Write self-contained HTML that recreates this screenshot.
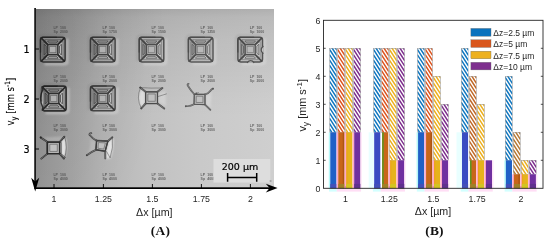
<!DOCTYPE html>
<html lang="en"><head><meta charset="utf-8"><title>Figure</title>
<style>html,body{margin:0;padding:0;background:#fff;overflow:hidden}svg{display:block}text{font-family:"Liberation Sans",sans-serif;fill:#262626}.dj{font-family:"DejaVu Sans Condensed","DejaVu Sans","Liberation Sans",sans-serif;fill:#000;stroke:#000;stroke-width:0.15px}.djs{font-family:"DejaVu Sans","Liberation Sans",sans-serif;fill:#000;stroke:#000;stroke-width:0.2px}.cap{font-family:"Liberation Serif",serif;font-weight:bold;fill:#111}.tiny{font-family:"Liberation Sans",sans-serif;font-weight:bold;font-size:3.5px;fill:#3c3c3c}</style></head><body>
<svg width="550" height="242" viewBox="0 0 550 242">
<defs>
<linearGradient id="bg" x1="0" y1="0" x2="1" y2="0"><stop offset="0" stop-color="#969696"/><stop offset="0.046" stop-color="#9c9c9c"/><stop offset="0.155" stop-color="#a7a7a7"/><stop offset="0.27" stop-color="#b4b4b4"/><stop offset="0.36" stop-color="#bbbbbb"/><stop offset="0.46" stop-color="#c1c1c1"/><stop offset="0.69" stop-color="#c9c9c9"/><stop offset="1.0" stop-color="#cfcfcf"/></linearGradient>
<linearGradient id="topdark" x1="0" y1="0" x2="0" y2="1"><stop offset="0.000" stop-color="#000" stop-opacity="0.15"/><stop offset="0.045" stop-color="#000" stop-opacity="0.1"/><stop offset="0.173" stop-color="#000" stop-opacity="0.065"/><stop offset="0.335" stop-color="#000" stop-opacity="0.04"/><stop offset="0.508" stop-color="#000" stop-opacity="0.01"/><stop offset="0.609" stop-color="#000" stop-opacity="0"/></linearGradient>
<radialGradient id="cornerdark" gradientUnits="userSpaceOnUse" cx="36" cy="9" r="130" gradientTransform="translate(36,9) scale(1,2) translate(-36,-9)"><stop offset="0" stop-color="#000" stop-opacity="0.10"/><stop offset="1" stop-color="#000" stop-opacity="0"/></radialGradient>
<filter id="b1" x="-20%" y="-20%" width="140%" height="140%"><feGaussianBlur stdDeviation="0.62"/></filter>
<filter id="b2" x="-20%" y="-20%" width="140%" height="140%"><feGaussianBlur stdDeviation="0.9"/></filter>
<filter id="bt" x="-20%" y="-50%" width="140%" height="200%"><feGaussianBlur stdDeviation="0.45"/></filter>
<clipPath id="imgclip"><rect x="36" y="9" width="238" height="178.5"/></clipPath>
</defs>
<g clip-path="url(#imgclip)">
<rect x="36" y="9" width="238" height="179" fill="url(#bg)"/>
<rect x="36" y="9" width="238" height="179" fill="url(#topdark)"/>
<rect x="36" y="9" width="238" height="179" fill="url(#cornerdark)"/>
<path d="M67.3,38.8 L67.3,62.900000000000006 Q66.6,64.10000000000001 64.1,64.10000000000001 L44.5,64.10000000000001" fill="none" stroke="#ececec" stroke-width="2.2" opacity="0.47" filter="url(#b2)"/>
<path d="M38.7,60.900000000000006 L38.7,38.3 Q39.0,35.5 42.0,35.5 L63.099999999999994,35.5" fill="none" stroke="#444" stroke-width="1.6" opacity="0.21" filter="url(#b2)"/>
<g filter="url(#b1)" opacity="0.95">
<rect x="40.5" y="37.3" width="24.6" height="24.6" rx="2.5" fill="#9a9a9a" opacity="0.25"/>
<rect x="40.5" y="37.3" width="24.6" height="24.6" rx="2.8" fill="none" stroke="#2e2e2e" stroke-width="1.5"/>
<path d="M40.5,52.6 L40.5,39.8 Q40.5,37.3 43.0,37.3 L56.8,37.3" fill="none" stroke="#161616" stroke-width="1.5" opacity="0.55"/>
<polygon points="44.70,39.60 60.90,39.60 58.20,44.30 47.40,44.30" fill="#8e8e8e" fill-opacity="0.35" stroke="#2c2c2c" stroke-width="0.6" stroke-opacity="0.7" stroke-linejoin="round"/>
<polygon points="47.45,40.96 58.15,40.96 56.36,42.94 49.24,42.94" fill="none" stroke="#2e2e2e" stroke-width="0.85" stroke-linejoin="round" opacity="0.85"/>
<polygon points="42.80,41.50 47.50,44.20 47.50,55.00 42.80,57.70" fill="#5e5e5e" fill-opacity="0.45" stroke="#2c2c2c" stroke-width="0.6" stroke-opacity="0.7" stroke-linejoin="round"/>
<polygon points="44.16,44.25 46.14,46.04 46.14,53.16 44.16,54.95" fill="none" stroke="#2e2e2e" stroke-width="0.85" stroke-linejoin="round" opacity="0.85"/>
<polygon points="62.80,41.50 58.10,44.20 58.10,55.00 62.80,57.70" fill="#dadada" fill-opacity="0.7" stroke="#2c2c2c" stroke-width="0.6" stroke-opacity="0.7" stroke-linejoin="round"/>
<polygon points="61.44,44.25 59.46,46.04 59.46,53.16 61.44,54.95" fill="none" stroke="#2e2e2e" stroke-width="0.85" stroke-linejoin="round" opacity="0.85"/>
<polygon points="44.70,59.60 60.90,59.60 58.20,54.90 47.40,54.90" fill="#cfcfcf" fill-opacity="0.55" stroke="#2c2c2c" stroke-width="0.6" stroke-opacity="0.7" stroke-linejoin="round"/>
<polygon points="47.45,58.24 58.15,58.24 56.36,56.26 49.24,56.26" fill="none" stroke="#2e2e2e" stroke-width="0.85" stroke-linejoin="round" opacity="0.85"/>
<line x1="41.30" y1="38.10" x2="47.80" y2="44.60" stroke="#222" stroke-width="1.65" stroke-linecap="round"/>
<line x1="64.30" y1="38.10" x2="57.80" y2="44.60" stroke="#222" stroke-width="1.65" stroke-linecap="round"/>
<line x1="41.30" y1="61.10" x2="47.80" y2="54.60" stroke="#222" stroke-width="1.65" stroke-linecap="round"/>
<line x1="64.30" y1="61.10" x2="57.80" y2="54.60" stroke="#222" stroke-width="1.65" stroke-linecap="round"/>
<rect x="47.8" y="44.6" width="10.0" height="10.0" fill="#a4a4a4" fill-opacity="0.6" stroke="#2a2a2a" stroke-width="1.25"/>
<rect x="49.699999999999996" y="46.5" width="6.2" height="6.2" fill="#bdbdbd" fill-opacity="0.7" stroke="#5c5c5c" stroke-width="0.6"/>
</g>
<path d="M117.3,38.8 L117.3,62.900000000000006 Q116.6,64.10000000000001 114.1,64.10000000000001 L94.5,64.10000000000001" fill="none" stroke="#ececec" stroke-width="2.2" opacity="0.41" filter="url(#b2)"/>
<path d="M88.7,60.900000000000006 L88.7,38.3 Q89.0,35.5 92.0,35.5 L113.1,35.5" fill="none" stroke="#444" stroke-width="1.6" opacity="0.18" filter="url(#b2)"/>
<g filter="url(#b1)" opacity="0.82">
<rect x="90.5" y="37.3" width="24.6" height="24.6" rx="2.5" fill="#9a9a9a" opacity="0.25"/>
<rect x="90.5" y="37.3" width="24.6" height="24.6" rx="2.8" fill="none" stroke="#2e2e2e" stroke-width="1.5"/>
<path d="M90.5,52.6 L90.5,39.8 Q90.5,37.3 93.0,37.3 L106.8,37.3" fill="none" stroke="#161616" stroke-width="1.5" opacity="0.55"/>
<polygon points="94.70,39.60 110.90,39.60 108.20,44.30 97.40,44.30" fill="#8e8e8e" fill-opacity="0.35" stroke="#2c2c2c" stroke-width="0.6" stroke-opacity="0.7" stroke-linejoin="round"/>
<polygon points="97.45,40.96 108.15,40.96 106.36,42.94 99.24,42.94" fill="none" stroke="#2e2e2e" stroke-width="0.85" stroke-linejoin="round" opacity="0.85"/>
<polygon points="92.80,41.50 97.50,44.20 97.50,55.00 92.80,57.70" fill="#5e5e5e" fill-opacity="0.45" stroke="#2c2c2c" stroke-width="0.6" stroke-opacity="0.7" stroke-linejoin="round"/>
<polygon points="94.16,44.25 96.14,46.04 96.14,53.16 94.16,54.95" fill="none" stroke="#2e2e2e" stroke-width="0.85" stroke-linejoin="round" opacity="0.85"/>
<polygon points="112.80,41.50 108.10,44.20 108.10,55.00 112.80,57.70" fill="#dadada" fill-opacity="0.7" stroke="#2c2c2c" stroke-width="0.6" stroke-opacity="0.7" stroke-linejoin="round"/>
<polygon points="111.44,44.25 109.46,46.04 109.46,53.16 111.44,54.95" fill="none" stroke="#2e2e2e" stroke-width="0.85" stroke-linejoin="round" opacity="0.85"/>
<polygon points="94.70,59.60 110.90,59.60 108.20,54.90 97.40,54.90" fill="#cfcfcf" fill-opacity="0.55" stroke="#2c2c2c" stroke-width="0.6" stroke-opacity="0.7" stroke-linejoin="round"/>
<polygon points="97.45,58.24 108.15,58.24 106.36,56.26 99.24,56.26" fill="none" stroke="#2e2e2e" stroke-width="0.85" stroke-linejoin="round" opacity="0.85"/>
<line x1="91.30" y1="38.10" x2="97.80" y2="44.60" stroke="#222" stroke-width="1.65" stroke-linecap="round"/>
<line x1="114.30" y1="38.10" x2="107.80" y2="44.60" stroke="#222" stroke-width="1.65" stroke-linecap="round"/>
<line x1="91.30" y1="61.10" x2="97.80" y2="54.60" stroke="#222" stroke-width="1.65" stroke-linecap="round"/>
<line x1="114.30" y1="61.10" x2="107.80" y2="54.60" stroke="#222" stroke-width="1.65" stroke-linecap="round"/>
<rect x="97.8" y="44.6" width="10.0" height="10.0" fill="#a4a4a4" fill-opacity="0.6" stroke="#2a2a2a" stroke-width="1.25"/>
<rect x="99.7" y="46.5" width="6.2" height="6.2" fill="#bdbdbd" fill-opacity="0.7" stroke="#5c5c5c" stroke-width="0.6"/>
</g>
<path d="M166.0,38.8 L166.0,62.900000000000006 Q165.3,64.10000000000001 162.8,64.10000000000001 L143.2,64.10000000000001" fill="none" stroke="#ececec" stroke-width="2.2" opacity="0.38" filter="url(#b2)"/>
<path d="M137.39999999999998,60.900000000000006 L137.39999999999998,38.3 Q137.7,35.5 140.7,35.5 L161.8,35.5" fill="none" stroke="#444" stroke-width="1.6" opacity="0.17" filter="url(#b2)"/>
<g filter="url(#b1)" opacity="0.75">
<rect x="139.2" y="37.3" width="24.6" height="24.6" rx="2.5" fill="#9a9a9a" opacity="0.25"/>
<rect x="139.2" y="37.3" width="24.6" height="24.6" rx="2.8" fill="none" stroke="#2e2e2e" stroke-width="1.5"/>
<path d="M139.2,52.6 L139.2,39.8 Q139.2,37.3 141.7,37.3 L155.5,37.3" fill="none" stroke="#161616" stroke-width="1.5" opacity="0.55"/>
<polygon points="143.40,39.60 159.60,39.60 156.90,44.30 146.10,44.30" fill="#8e8e8e" fill-opacity="0.35" stroke="#2c2c2c" stroke-width="0.6" stroke-opacity="0.7" stroke-linejoin="round"/>
<polygon points="146.15,40.96 156.85,40.96 155.06,42.94 147.94,42.94" fill="none" stroke="#2e2e2e" stroke-width="0.85" stroke-linejoin="round" opacity="0.85"/>
<polygon points="141.50,41.50 146.20,44.20 146.20,55.00 141.50,57.70" fill="#5e5e5e" fill-opacity="0.45" stroke="#2c2c2c" stroke-width="0.6" stroke-opacity="0.7" stroke-linejoin="round"/>
<polygon points="142.86,44.25 144.84,46.04 144.84,53.16 142.86,54.95" fill="none" stroke="#2e2e2e" stroke-width="0.85" stroke-linejoin="round" opacity="0.85"/>
<polygon points="161.50,41.50 156.80,44.20 156.80,55.00 161.50,57.70" fill="#dadada" fill-opacity="0.7" stroke="#2c2c2c" stroke-width="0.6" stroke-opacity="0.7" stroke-linejoin="round"/>
<polygon points="160.14,44.25 158.16,46.04 158.16,53.16 160.14,54.95" fill="none" stroke="#2e2e2e" stroke-width="0.85" stroke-linejoin="round" opacity="0.85"/>
<polygon points="143.40,59.60 159.60,59.60 156.90,54.90 146.10,54.90" fill="#cfcfcf" fill-opacity="0.55" stroke="#2c2c2c" stroke-width="0.6" stroke-opacity="0.7" stroke-linejoin="round"/>
<polygon points="146.15,58.24 156.85,58.24 155.06,56.26 147.94,56.26" fill="none" stroke="#2e2e2e" stroke-width="0.85" stroke-linejoin="round" opacity="0.85"/>
<line x1="140.00" y1="38.10" x2="146.50" y2="44.60" stroke="#222" stroke-width="1.65" stroke-linecap="round"/>
<line x1="163.00" y1="38.10" x2="156.50" y2="44.60" stroke="#222" stroke-width="1.65" stroke-linecap="round"/>
<line x1="140.00" y1="61.10" x2="146.50" y2="54.60" stroke="#222" stroke-width="1.65" stroke-linecap="round"/>
<line x1="163.00" y1="61.10" x2="156.50" y2="54.60" stroke="#222" stroke-width="1.65" stroke-linecap="round"/>
<rect x="146.5" y="44.6" width="10.0" height="10.0" fill="#a4a4a4" fill-opacity="0.6" stroke="#2a2a2a" stroke-width="1.25"/>
<rect x="148.4" y="46.5" width="6.2" height="6.2" fill="#bdbdbd" fill-opacity="0.7" stroke="#5c5c5c" stroke-width="0.6"/>
</g>
<path d="M215.2,38.8 L215.2,62.900000000000006 Q214.5,64.10000000000001 212.0,64.10000000000001 L192.39999999999998,64.10000000000001" fill="none" stroke="#ececec" stroke-width="2.2" opacity="0.35" filter="url(#b2)"/>
<path d="M186.59999999999997,60.900000000000006 L186.59999999999997,38.3 Q186.89999999999998,35.5 189.89999999999998,35.5 L211.0,35.5" fill="none" stroke="#444" stroke-width="1.6" opacity="0.15" filter="url(#b2)"/>
<g filter="url(#b1)" opacity="0.70">
<rect x="188.39999999999998" y="37.3" width="24.6" height="24.6" rx="2.5" fill="#9a9a9a" opacity="0.25"/>
<rect x="188.39999999999998" y="37.3" width="24.6" height="24.6" rx="2.8" fill="none" stroke="#2e2e2e" stroke-width="1.5"/>
<path d="M188.39999999999998,52.6 L188.39999999999998,39.8 Q188.39999999999998,37.3 190.89999999999998,37.3 L204.7,37.3" fill="none" stroke="#161616" stroke-width="1.5" opacity="0.55"/>
<polygon points="192.60,39.60 208.80,39.60 206.10,44.30 195.30,44.30" fill="#8e8e8e" fill-opacity="0.35" stroke="#2c2c2c" stroke-width="0.6" stroke-opacity="0.7" stroke-linejoin="round"/>
<polygon points="195.35,40.96 206.05,40.96 204.26,42.94 197.14,42.94" fill="none" stroke="#2e2e2e" stroke-width="0.85" stroke-linejoin="round" opacity="0.85"/>
<polygon points="190.70,41.50 195.40,44.20 195.40,55.00 190.70,57.70" fill="#5e5e5e" fill-opacity="0.45" stroke="#2c2c2c" stroke-width="0.6" stroke-opacity="0.7" stroke-linejoin="round"/>
<polygon points="192.06,44.25 194.04,46.04 194.04,53.16 192.06,54.95" fill="none" stroke="#2e2e2e" stroke-width="0.85" stroke-linejoin="round" opacity="0.85"/>
<polygon points="210.70,41.50 206.00,44.20 206.00,55.00 210.70,57.70" fill="#dadada" fill-opacity="0.7" stroke="#2c2c2c" stroke-width="0.6" stroke-opacity="0.7" stroke-linejoin="round"/>
<polygon points="209.34,44.25 207.36,46.04 207.36,53.16 209.34,54.95" fill="none" stroke="#2e2e2e" stroke-width="0.85" stroke-linejoin="round" opacity="0.85"/>
<polygon points="192.60,59.60 208.80,59.60 206.10,54.90 195.30,54.90" fill="#cfcfcf" fill-opacity="0.55" stroke="#2c2c2c" stroke-width="0.6" stroke-opacity="0.7" stroke-linejoin="round"/>
<polygon points="195.35,58.24 206.05,58.24 204.26,56.26 197.14,56.26" fill="none" stroke="#2e2e2e" stroke-width="0.85" stroke-linejoin="round" opacity="0.85"/>
<line x1="189.20" y1="38.10" x2="195.70" y2="44.60" stroke="#222" stroke-width="1.65" stroke-linecap="round"/>
<line x1="212.20" y1="38.10" x2="205.70" y2="44.60" stroke="#222" stroke-width="1.65" stroke-linecap="round"/>
<line x1="189.20" y1="61.10" x2="195.70" y2="54.60" stroke="#222" stroke-width="1.65" stroke-linecap="round"/>
<line x1="212.20" y1="61.10" x2="205.70" y2="54.60" stroke="#222" stroke-width="1.65" stroke-linecap="round"/>
<rect x="195.7" y="44.6" width="10.0" height="10.0" fill="#a4a4a4" fill-opacity="0.6" stroke="#2a2a2a" stroke-width="1.25"/>
<rect x="197.6" y="46.5" width="6.2" height="6.2" fill="#bdbdbd" fill-opacity="0.7" stroke="#5c5c5c" stroke-width="0.6"/>
</g>
<path d="M264.7,38.8 L264.7,62.900000000000006 Q264.0,64.10000000000001 261.5,64.10000000000001 L241.89999999999998,64.10000000000001" fill="none" stroke="#ececec" stroke-width="2.2" opacity="0.37" filter="url(#b2)"/>
<path d="M236.09999999999997,60.900000000000006 L236.09999999999997,38.3 Q236.39999999999998,35.5 239.39999999999998,35.5 L260.5,35.5" fill="none" stroke="#444" stroke-width="1.6" opacity="0.16" filter="url(#b2)"/>
<g filter="url(#b1)" opacity="0.74">
<rect x="237.89999999999998" y="37.3" width="24.6" height="24.6" rx="2.5" fill="#9a9a9a" opacity="0.25"/>
<rect x="237.89999999999998" y="37.3" width="24.6" height="24.6" rx="2.8" fill="none" stroke="#2e2e2e" stroke-width="1.5"/>
<path d="M237.89999999999998,52.6 L237.89999999999998,39.8 Q237.89999999999998,37.3 240.39999999999998,37.3 L254.2,37.3" fill="none" stroke="#161616" stroke-width="1.5" opacity="0.55"/>
<polygon points="242.10,39.60 258.30,39.60 255.60,44.30 244.80,44.30" fill="#8e8e8e" fill-opacity="0.35" stroke="#2c2c2c" stroke-width="0.6" stroke-opacity="0.7" stroke-linejoin="round"/>
<polygon points="244.85,40.96 255.55,40.96 253.76,42.94 246.64,42.94" fill="none" stroke="#2e2e2e" stroke-width="0.85" stroke-linejoin="round" opacity="0.85"/>
<polygon points="240.20,41.50 244.90,44.20 244.90,55.00 240.20,57.70" fill="#5e5e5e" fill-opacity="0.45" stroke="#2c2c2c" stroke-width="0.6" stroke-opacity="0.7" stroke-linejoin="round"/>
<polygon points="241.56,44.25 243.54,46.04 243.54,53.16 241.56,54.95" fill="none" stroke="#2e2e2e" stroke-width="0.85" stroke-linejoin="round" opacity="0.85"/>
<polygon points="260.20,41.50 255.50,44.20 255.50,55.00 260.20,57.70" fill="#dadada" fill-opacity="0.7" stroke="#2c2c2c" stroke-width="0.6" stroke-opacity="0.7" stroke-linejoin="round"/>
<polygon points="258.84,44.25 256.86,46.04 256.86,53.16 258.84,54.95" fill="none" stroke="#2e2e2e" stroke-width="0.85" stroke-linejoin="round" opacity="0.85"/>
<polygon points="242.10,59.60 258.30,59.60 255.60,54.90 244.80,54.90" fill="#cfcfcf" fill-opacity="0.55" stroke="#2c2c2c" stroke-width="0.6" stroke-opacity="0.7" stroke-linejoin="round"/>
<polygon points="244.85,58.24 255.55,58.24 253.76,56.26 246.64,56.26" fill="none" stroke="#2e2e2e" stroke-width="0.85" stroke-linejoin="round" opacity="0.85"/>
<line x1="238.70" y1="38.10" x2="245.20" y2="44.60" stroke="#222" stroke-width="1.65" stroke-linecap="round"/>
<line x1="261.70" y1="38.10" x2="255.20" y2="44.60" stroke="#222" stroke-width="1.65" stroke-linecap="round"/>
<line x1="238.70" y1="61.10" x2="245.20" y2="54.60" stroke="#222" stroke-width="1.65" stroke-linecap="round"/>
<line x1="261.70" y1="61.10" x2="255.20" y2="54.60" stroke="#222" stroke-width="1.65" stroke-linecap="round"/>
<path d="M263.4,46.0 Q258.9,50.1 263.4,53.6" fill="#c2c2c2" stroke="#2a2a2a" stroke-width="1.2"/>
<path d="M247.0,62.800000000000004 Q250.7,58.300000000000004 254.2,62.800000000000004" fill="#c2c2c2" stroke="#2a2a2a" stroke-width="1.2"/>
<rect x="245.2" y="44.6" width="10.0" height="10.0" fill="#a4a4a4" fill-opacity="0.6" stroke="#2a2a2a" stroke-width="1.25"/>
<rect x="247.1" y="46.5" width="6.2" height="6.2" fill="#bdbdbd" fill-opacity="0.7" stroke="#5c5c5c" stroke-width="0.6"/>
</g>
<path d="M68.3,87.7 L68.3,111.8 Q67.6,113.0 65.1,113.0 L45.5,113.0" fill="none" stroke="#ececec" stroke-width="2.2" opacity="0.47" filter="url(#b2)"/>
<path d="M39.7,109.8 L39.7,87.2 Q40.0,84.4 43.0,84.4 L64.1,84.4" fill="none" stroke="#444" stroke-width="1.6" opacity="0.21" filter="url(#b2)"/>
<g filter="url(#b1)" opacity="0.95">
<rect x="41.5" y="86.2" width="24.6" height="24.6" rx="2.5" fill="#9a9a9a" opacity="0.25"/>
<path d="M44.0,86.2 L63.599999999999994,86.2 Q66.1,86.2 66.1,88.7 L66.1,108.3 Q66.1,110.8 63.599999999999994,110.8 L44.0,110.8 Q42.0,109.8 43.0,107.3 Q38.3,98.5 43.0,89.7 Q42.0,87.2 44.0,86.2 Z" fill="none" stroke="#2a2a2a" stroke-width="1.7" stroke-linejoin="round"/>
<path d="M43.3,106.8 Q39.3,98.5 43.3,90.2 Q45.1,98.5 43.3,106.8 Z" fill="#c8c8c8" opacity="0.75"/>
<path d="M41.5,101.5 L41.5,88.7 Q41.5,86.2 44.0,86.2 L57.8,86.2" fill="none" stroke="#161616" stroke-width="1.5" opacity="0.55"/>
<polygon points="45.70,88.50 61.90,88.50 59.20,93.20 48.40,93.20" fill="#8e8e8e" fill-opacity="0.35" stroke="#2c2c2c" stroke-width="0.6" stroke-opacity="0.7" stroke-linejoin="round"/>
<polygon points="48.45,89.86 59.15,89.86 57.36,91.84 50.24,91.84" fill="none" stroke="#2e2e2e" stroke-width="0.85" stroke-linejoin="round" opacity="0.85"/>
<polygon points="43.80,90.40 48.50,93.10 48.50,103.90 43.80,106.60" fill="#5e5e5e" fill-opacity="0.45" stroke="#2c2c2c" stroke-width="0.6" stroke-opacity="0.7" stroke-linejoin="round"/>
<polygon points="45.16,93.15 47.14,94.94 47.14,102.06 45.16,103.85" fill="none" stroke="#2e2e2e" stroke-width="0.85" stroke-linejoin="round" opacity="0.85"/>
<polygon points="63.80,90.40 59.10,93.10 59.10,103.90 63.80,106.60" fill="#dadada" fill-opacity="0.7" stroke="#2c2c2c" stroke-width="0.6" stroke-opacity="0.7" stroke-linejoin="round"/>
<polygon points="62.44,93.15 60.46,94.94 60.46,102.06 62.44,103.85" fill="none" stroke="#2e2e2e" stroke-width="0.85" stroke-linejoin="round" opacity="0.85"/>
<polygon points="45.70,108.50 61.90,108.50 59.20,103.80 48.40,103.80" fill="#cfcfcf" fill-opacity="0.55" stroke="#2c2c2c" stroke-width="0.6" stroke-opacity="0.7" stroke-linejoin="round"/>
<polygon points="48.45,107.14 59.15,107.14 57.36,105.16 50.24,105.16" fill="none" stroke="#2e2e2e" stroke-width="0.85" stroke-linejoin="round" opacity="0.85"/>
<line x1="42.30" y1="87.00" x2="48.80" y2="93.50" stroke="#222" stroke-width="1.65" stroke-linecap="round"/>
<line x1="65.30" y1="87.00" x2="58.80" y2="93.50" stroke="#222" stroke-width="1.65" stroke-linecap="round"/>
<line x1="42.30" y1="110.00" x2="48.80" y2="103.50" stroke="#222" stroke-width="1.65" stroke-linecap="round"/>
<line x1="65.30" y1="110.00" x2="58.80" y2="103.50" stroke="#222" stroke-width="1.65" stroke-linecap="round"/>
<rect x="48.8" y="93.5" width="10.0" height="10.0" fill="#a4a4a4" fill-opacity="0.6" stroke="#2a2a2a" stroke-width="1.25"/>
<rect x="50.699999999999996" y="95.4" width="6.2" height="6.2" fill="#bdbdbd" fill-opacity="0.7" stroke="#5c5c5c" stroke-width="0.6"/>
</g>
<path d="M117.3,87.60000000000001 L117.3,111.7 Q116.6,112.9 114.1,112.9 L94.5,112.9" fill="none" stroke="#ececec" stroke-width="2.2" opacity="0.41" filter="url(#b2)"/>
<path d="M88.7,109.7 L88.7,87.10000000000001 Q89.0,84.30000000000001 92.0,84.30000000000001 L113.1,84.30000000000001" fill="none" stroke="#444" stroke-width="1.6" opacity="0.18" filter="url(#b2)"/>
<g filter="url(#b1)" opacity="0.82">
<rect x="90.5" y="86.10000000000001" width="24.6" height="24.6" rx="2.5" fill="#9a9a9a" opacity="0.25"/>
<rect x="90.5" y="86.10000000000001" width="24.6" height="24.6" rx="2.8" fill="none" stroke="#2e2e2e" stroke-width="1.5"/>
<path d="M90.5,101.4 L90.5,88.60000000000001 Q90.5,86.10000000000001 93.0,86.10000000000001 L106.8,86.10000000000001" fill="none" stroke="#161616" stroke-width="1.5" opacity="0.55"/>
<polygon points="94.70,88.40 110.90,88.40 108.20,93.10 97.40,93.10" fill="#8e8e8e" fill-opacity="0.35" stroke="#2c2c2c" stroke-width="0.6" stroke-opacity="0.7" stroke-linejoin="round"/>
<polygon points="97.45,89.76 108.15,89.76 106.36,91.74 99.24,91.74" fill="none" stroke="#2e2e2e" stroke-width="0.85" stroke-linejoin="round" opacity="0.85"/>
<polygon points="92.80,90.30 97.50,93.00 97.50,103.80 92.80,106.50" fill="#5e5e5e" fill-opacity="0.45" stroke="#2c2c2c" stroke-width="0.6" stroke-opacity="0.7" stroke-linejoin="round"/>
<polygon points="94.16,93.05 96.14,94.84 96.14,101.96 94.16,103.75" fill="none" stroke="#2e2e2e" stroke-width="0.85" stroke-linejoin="round" opacity="0.85"/>
<polygon points="112.80,90.30 108.10,93.00 108.10,103.80 112.80,106.50" fill="#dadada" fill-opacity="0.7" stroke="#2c2c2c" stroke-width="0.6" stroke-opacity="0.7" stroke-linejoin="round"/>
<polygon points="111.44,93.05 109.46,94.84 109.46,101.96 111.44,103.75" fill="none" stroke="#2e2e2e" stroke-width="0.85" stroke-linejoin="round" opacity="0.85"/>
<polygon points="94.70,108.40 110.90,108.40 108.20,103.70 97.40,103.70" fill="#cfcfcf" fill-opacity="0.55" stroke="#2c2c2c" stroke-width="0.6" stroke-opacity="0.7" stroke-linejoin="round"/>
<polygon points="97.45,107.04 108.15,107.04 106.36,105.06 99.24,105.06" fill="none" stroke="#2e2e2e" stroke-width="0.85" stroke-linejoin="round" opacity="0.85"/>
<line x1="91.30" y1="86.90" x2="97.80" y2="93.40" stroke="#222" stroke-width="1.65" stroke-linecap="round"/>
<line x1="114.30" y1="86.90" x2="107.80" y2="93.40" stroke="#222" stroke-width="1.65" stroke-linecap="round"/>
<line x1="91.30" y1="109.90" x2="97.80" y2="103.40" stroke="#222" stroke-width="1.65" stroke-linecap="round"/>
<line x1="114.30" y1="109.90" x2="107.80" y2="103.40" stroke="#222" stroke-width="1.65" stroke-linecap="round"/>
<rect x="97.8" y="93.4" width="10.0" height="10.0" fill="#a4a4a4" fill-opacity="0.6" stroke="#2a2a2a" stroke-width="1.25"/>
<rect x="99.7" y="95.30000000000001" width="6.2" height="6.2" fill="#bdbdbd" fill-opacity="0.7" stroke="#5c5c5c" stroke-width="0.6"/>
</g>
<path d="M141,89 Q136.6,98 141.5,107.5 L145,103 L145,92.5 Z" fill="#ececec" opacity="0.7" filter="url(#b2)"/>
<path d="M158.5,93 L165.5,91 L166,106 L158.5,102.5 Z" fill="#ececec" opacity="0.35" filter="url(#b2)"/>
<g filter="url(#b1)" opacity="0.95">
<path d="M145.6,91.8 L140.2,87.5" fill="none" stroke="#444" stroke-width="1.9" stroke-linecap="round" stroke-linejoin="round"/>
<path d="M157.5,91.8 L162.4,88" fill="none" stroke="#444" stroke-width="1.9" stroke-linecap="round" stroke-linejoin="round"/>
<path d="M145.6,103.5 L141.3,108.4" fill="none" stroke="#444" stroke-width="1.9" stroke-linecap="round" stroke-linejoin="round"/>
<path d="M157.5,103.5 L164.2,108.6" fill="none" stroke="#444" stroke-width="1.9" stroke-linecap="round" stroke-linejoin="round"/>
<polygon points="145.6,91.8 157.5,91.8 157.5,103.5 145.6,103.5" fill="#b6b6b6" stroke="#444" stroke-width="1.25" stroke-linejoin="round"/>
<path d="M145.6,91.8 L140.2,87.5" fill="none" stroke="#a8a8a8" stroke-width="0.65" stroke-linecap="round" stroke-linejoin="round" opacity="0.75"/>
<path d="M157.5,91.8 L162.4,88" fill="none" stroke="#a8a8a8" stroke-width="0.65" stroke-linecap="round" stroke-linejoin="round" opacity="0.75"/>
<path d="M145.6,103.5 L141.3,108.4" fill="none" stroke="#a8a8a8" stroke-width="0.65" stroke-linecap="round" stroke-linejoin="round" opacity="0.75"/>
<path d="M157.5,103.5 L164.2,108.6" fill="none" stroke="#a8a8a8" stroke-width="0.65" stroke-linecap="round" stroke-linejoin="round" opacity="0.75"/>
<polygon points="145.6,91.8 157.5,91.8 157.5,103.5 145.6,103.5" fill="none" stroke="#444" stroke-width="0.94" stroke-linejoin="round"/>
<polygon points="147.86,94.02 155.24,94.02 155.24,101.28 147.86,101.28" fill="#c8c8c8" fill-opacity="0.6" stroke="#505050" stroke-width="0.55"/>
<path d="M140.2,87.6 Q151,88.4 162.2,88" fill="none" stroke="#444" stroke-width="0.8" stroke-linecap="round" opacity="0.6"/>
<path d="M140.4,88 Q135.8,98 141.2,108.2" fill="none" stroke="#444" stroke-width="0.8" stroke-linecap="round" opacity="0.6"/>
<path d="M157.8,96.6 L166.4,93.9" fill="none" stroke="#444" stroke-width="0.8" stroke-linecap="round" opacity="0.6"/>
<circle cx="140.3" cy="87.6" r="0.9" fill="#444"/>
<circle cx="141.3" cy="108.4" r="0.8" fill="#444"/>
</g>
<path d="M206,95.5 L211.5,92 L210.5,108 L206,104 Z" fill="#ececec" opacity="0.35" filter="url(#b2)"/>
<g filter="url(#b1)" opacity="0.95">
<path d="M194.3,94.2 Q190.5,90 188.2,86.2 Q186.6,84.3 188.6,83.8" fill="none" stroke="#525252" stroke-width="1.7" stroke-linecap="round" stroke-linejoin="round"/>
<path d="M205,94.4 Q208.5,93.5 210.2,91 Q211.5,89.2 213,88.6" fill="none" stroke="#525252" stroke-width="1.7" stroke-linecap="round" stroke-linejoin="round"/>
<path d="M194,104.3 Q190.5,106.6 185.8,106.2" fill="none" stroke="#525252" stroke-width="1.7" stroke-linecap="round" stroke-linejoin="round"/>
<path d="M205,104.6 L210.4,109.8" fill="none" stroke="#525252" stroke-width="1.7" stroke-linecap="round" stroke-linejoin="round"/>
<polygon points="194.3,94.2 205,94.4 205,104.6 194,104.3" fill="#b6b6b6" stroke="#525252" stroke-width="1.1" stroke-linejoin="round"/>
<path d="M194.3,94.2 Q190.5,90 188.2,86.2 Q186.6,84.3 188.6,83.8" fill="none" stroke="#a8a8a8" stroke-width="0.65" stroke-linecap="round" stroke-linejoin="round" opacity="0.75"/>
<path d="M205,94.4 Q208.5,93.5 210.2,91 Q211.5,89.2 213,88.6" fill="none" stroke="#a8a8a8" stroke-width="0.65" stroke-linecap="round" stroke-linejoin="round" opacity="0.75"/>
<path d="M194,104.3 Q190.5,106.6 185.8,106.2" fill="none" stroke="#a8a8a8" stroke-width="0.65" stroke-linecap="round" stroke-linejoin="round" opacity="0.75"/>
<path d="M205,104.6 L210.4,109.8" fill="none" stroke="#a8a8a8" stroke-width="0.65" stroke-linecap="round" stroke-linejoin="round" opacity="0.75"/>
<polygon points="194.3,94.2 205,94.4 205,104.6 194,104.3" fill="none" stroke="#525252" stroke-width="0.83" stroke-linejoin="round"/>
<polygon points="196.30,96.17 202.94,96.29 202.94,102.61 196.12,102.43" fill="#c8c8c8" fill-opacity="0.6" stroke="#505050" stroke-width="0.55"/>
<path d="M196,93.4 L198.5,92.5" fill="none" stroke="#525252" stroke-width="0.8" stroke-linecap="round" opacity="0.6"/>
<circle cx="196.3" cy="93.6" r="1.0" fill="#525252"/>
<circle cx="213" cy="88.6" r="0.9" fill="#525252"/>
<circle cx="185.8" cy="106.3" r="0.9" fill="#525252"/>
</g>
<path d="M60.8,141.5 L65,137 Q68.5,147.5 64.5,158 L60.8,153.6 Z" fill="#ececec" opacity="0.85" filter="url(#b2)"/>
<path d="M48,141 L43,137.6 L63,136.4 L59.5,141 Z" fill="#ececec" opacity="0.25" filter="url(#b2)"/>
<g filter="url(#b1)" opacity="1.00">
<path d="M47.5,142.1 L41.3,138 L40.6,137.4" fill="none" stroke="#2a2a2a" stroke-width="1.8" stroke-linecap="round" stroke-linejoin="round"/>
<path d="M59.6,142.1 L64.4,136.6" fill="none" stroke="#2a2a2a" stroke-width="1.8" stroke-linecap="round" stroke-linejoin="round"/>
<path d="M47.5,153.6 L41.3,158.6" fill="none" stroke="#2a2a2a" stroke-width="1.8" stroke-linecap="round" stroke-linejoin="round"/>
<path d="M59.6,153.6 L63.9,158.6" fill="none" stroke="#2a2a2a" stroke-width="1.8" stroke-linecap="round" stroke-linejoin="round"/>
<path d="M47.3,142.4 L47.3,153.4" fill="none" stroke="#2a2a2a" stroke-width="1.8" stroke-linecap="round" stroke-linejoin="round"/>
<polygon points="47.5,142.1 59.6,142.1 59.6,153.6 47.5,153.6" fill="#b6b6b6" stroke="#2a2a2a" stroke-width="1.4" stroke-linejoin="round"/>
<path d="M47.5,142.1 L41.3,138 L40.6,137.4" fill="none" stroke="#a8a8a8" stroke-width="0.65" stroke-linecap="round" stroke-linejoin="round" opacity="0.75"/>
<path d="M59.6,142.1 L64.4,136.6" fill="none" stroke="#a8a8a8" stroke-width="0.65" stroke-linecap="round" stroke-linejoin="round" opacity="0.75"/>
<path d="M47.5,153.6 L41.3,158.6" fill="none" stroke="#a8a8a8" stroke-width="0.65" stroke-linecap="round" stroke-linejoin="round" opacity="0.75"/>
<path d="M59.6,153.6 L63.9,158.6" fill="none" stroke="#a8a8a8" stroke-width="0.65" stroke-linecap="round" stroke-linejoin="round" opacity="0.75"/>
<path d="M47.3,142.4 L47.3,153.4" fill="none" stroke="#a8a8a8" stroke-width="0.65" stroke-linecap="round" stroke-linejoin="round" opacity="0.75"/>
<polygon points="47.5,142.1 59.6,142.1 59.6,153.6 47.5,153.6" fill="none" stroke="#2a2a2a" stroke-width="1.05" stroke-linejoin="round"/>
<polygon points="49.80,144.28 57.30,144.28 57.30,151.41 49.80,151.41" fill="#c8c8c8" fill-opacity="0.6" stroke="#505050" stroke-width="0.55"/>
<path d="M60.8,153.2 L65.6,157.6" fill="none" stroke="#2a2a2a" stroke-width="0.8" stroke-linecap="round" opacity="0.6"/>
<path d="M64.6,136.8 Q68.2,147.5 64.4,158.4" fill="none" stroke="#2a2a2a" stroke-width="0.8" stroke-linecap="round" opacity="0.6"/>
<path d="M61.4,142.6 L61.4,153" fill="none" stroke="#2a2a2a" stroke-width="0.8" stroke-linecap="round" opacity="0.6"/>
<circle cx="40.8" cy="137.6" r="1.0" fill="#2a2a2a"/>
</g>
<path d="M108.6,141.4 L113,137.4 Q114,148 110.5,158 L106,159 L106,151.5 Z" fill="#ececec" opacity="0.85" filter="url(#b2)"/>
<path d="M90,140 Q91.5,146 88,153 L95,149.5 L95.8,141.5 Z" fill="#ececec" opacity="0.2" filter="url(#b2)"/>
<g filter="url(#b1)" opacity="0.95">
<path d="M96.6,140.6 Q92.5,138.5 89.6,135 Q88.8,133.4 91.3,133.2" fill="none" stroke="#3a3a3a" stroke-width="1.8" stroke-linecap="round" stroke-linejoin="round"/>
<path d="M107.8,141.2 L112.4,137.3" fill="none" stroke="#3a3a3a" stroke-width="1.8" stroke-linecap="round" stroke-linejoin="round"/>
<path d="M95.9,149.8 Q92.5,151.2 86.8,155.2" fill="none" stroke="#3a3a3a" stroke-width="1.8" stroke-linecap="round" stroke-linejoin="round"/>
<path d="M105.2,151.2 L105.3,158.4" fill="none" stroke="#3a3a3a" stroke-width="1.8" stroke-linecap="round" stroke-linejoin="round"/>
<path d="M96.6,140.6 L107.8,141.2" fill="none" stroke="#3a3a3a" stroke-width="1.8" stroke-linecap="round" stroke-linejoin="round"/>
<polygon points="96.6,140.6 107.8,141.2 105.2,151.2 95.9,149.8" fill="#b6b6b6" stroke="#3a3a3a" stroke-width="1.4" stroke-linejoin="round"/>
<path d="M96.6,140.6 Q92.5,138.5 89.6,135 Q88.8,133.4 91.3,133.2" fill="none" stroke="#a8a8a8" stroke-width="0.65" stroke-linecap="round" stroke-linejoin="round" opacity="0.75"/>
<path d="M107.8,141.2 L112.4,137.3" fill="none" stroke="#a8a8a8" stroke-width="0.65" stroke-linecap="round" stroke-linejoin="round" opacity="0.75"/>
<path d="M95.9,149.8 Q92.5,151.2 86.8,155.2" fill="none" stroke="#a8a8a8" stroke-width="0.65" stroke-linecap="round" stroke-linejoin="round" opacity="0.75"/>
<path d="M105.2,151.2 L105.3,158.4" fill="none" stroke="#a8a8a8" stroke-width="0.65" stroke-linecap="round" stroke-linejoin="round" opacity="0.75"/>
<path d="M96.6,140.6 L107.8,141.2" fill="none" stroke="#a8a8a8" stroke-width="0.65" stroke-linecap="round" stroke-linejoin="round" opacity="0.75"/>
<polygon points="96.6,140.6 107.8,141.2 105.2,151.2 95.9,149.8" fill="none" stroke="#3a3a3a" stroke-width="1.05" stroke-linejoin="round"/>
<polygon points="98.41,142.54 105.36,142.91 103.75,149.11 97.98,148.24" fill="#c8c8c8" fill-opacity="0.6" stroke="#505050" stroke-width="0.55"/>
<path d="M112.4,137.5 Q113.6,148 110.2,157.5" fill="none" stroke="#3a3a3a" stroke-width="0.8" stroke-linecap="round" opacity="0.6"/>
<path d="M106.6,151.6 L110,157.6" fill="none" stroke="#3a3a3a" stroke-width="0.8" stroke-linecap="round" opacity="0.6"/>
<circle cx="86.8" cy="155.2" r="0.8" fill="#3a3a3a"/>
</g>
<g filter="url(#bt)" opacity="0.72">
<text class="tiny" x="53.4" y="28.7">LP</text><text class="tiny" x="60.0" y="28.7">100</text>
<text class="tiny" x="53.4" y="33.0">Sp</text><text class="tiny" x="60.0" y="33.0">2000</text>
<text class="tiny" x="102.5" y="28.7">LP</text><text class="tiny" x="109.1" y="28.7">100</text>
<text class="tiny" x="102.5" y="33.0">Sp</text><text class="tiny" x="109.1" y="33.0">1750</text>
<text class="tiny" x="151.4" y="28.7">LP</text><text class="tiny" x="158.0" y="28.7">100</text>
<text class="tiny" x="151.4" y="33.0">Sp</text><text class="tiny" x="158.0" y="33.0">1500</text>
<text class="tiny" x="200.6" y="28.7">LP</text><text class="tiny" x="207.2" y="28.7">100</text>
<text class="tiny" x="200.6" y="33.0">Sp</text><text class="tiny" x="207.2" y="33.0">1250</text>
<text class="tiny" x="249.8" y="28.7">LP</text><text class="tiny" x="256.40000000000003" y="28.7">100</text>
<text class="tiny" x="249.8" y="33.0">Sp</text><text class="tiny" x="256.40000000000003" y="33.0">1000</text>
<text class="tiny" x="53.4" y="77.8">LP</text><text class="tiny" x="60.0" y="77.8">100</text>
<text class="tiny" x="53.4" y="82.1">Sp</text><text class="tiny" x="60.0" y="82.1">2000</text>
<text class="tiny" x="102.5" y="77.8">LP</text><text class="tiny" x="109.1" y="77.8">100</text>
<text class="tiny" x="102.5" y="82.1">Sp</text><text class="tiny" x="109.1" y="82.1">2000</text>
<text class="tiny" x="151.4" y="77.8">LP</text><text class="tiny" x="158.0" y="77.8">100</text>
<text class="tiny" x="151.4" y="82.1">Sp</text><text class="tiny" x="158.0" y="82.1">2000</text>
<text class="tiny" x="200.6" y="77.8">LP</text><text class="tiny" x="207.2" y="77.8">100</text>
<text class="tiny" x="200.6" y="82.1">Sp</text><text class="tiny" x="207.2" y="82.1">2000</text>
<text class="tiny" x="249.8" y="77.8">LP</text><text class="tiny" x="256.40000000000003" y="77.8">100</text>
<text class="tiny" x="249.8" y="82.1">Sp</text><text class="tiny" x="256.40000000000003" y="82.1">2000</text>
<text class="tiny" x="53.4" y="126.89999999999999">LP</text><text class="tiny" x="60.0" y="126.89999999999999">100</text>
<text class="tiny" x="53.4" y="131.2">Sp</text><text class="tiny" x="60.0" y="131.2">3000</text>
<text class="tiny" x="102.5" y="126.89999999999999">LP</text><text class="tiny" x="109.1" y="126.89999999999999">100</text>
<text class="tiny" x="102.5" y="131.2">Sp</text><text class="tiny" x="109.1" y="131.2">3000</text>
<text class="tiny" x="151.4" y="126.89999999999999">LP</text><text class="tiny" x="158.0" y="126.89999999999999">100</text>
<text class="tiny" x="151.4" y="131.2">Sp</text><text class="tiny" x="158.0" y="131.2">3000</text>
<text class="tiny" x="200.6" y="126.89999999999999">LP</text><text class="tiny" x="207.2" y="126.89999999999999">100</text>
<text class="tiny" x="200.6" y="131.2">Sp</text><text class="tiny" x="207.2" y="131.2">3000</text>
<text class="tiny" x="249.8" y="126.89999999999999">LP</text><text class="tiny" x="256.40000000000003" y="126.89999999999999">100</text>
<text class="tiny" x="249.8" y="131.2">Sp</text><text class="tiny" x="256.40000000000003" y="131.2">3000</text>
<text class="tiny" x="53.4" y="175.8">LP</text><text class="tiny" x="60.0" y="175.8">100</text>
<text class="tiny" x="53.4" y="180.1">Sp</text><text class="tiny" x="60.0" y="180.1">4000</text>
<text class="tiny" x="102.5" y="175.8">LP</text><text class="tiny" x="109.1" y="175.8">100</text>
<text class="tiny" x="102.5" y="180.1">Sp</text><text class="tiny" x="109.1" y="180.1">4000</text>
<text class="tiny" x="151.4" y="175.8">LP</text><text class="tiny" x="158.0" y="175.8">100</text>
<text class="tiny" x="151.4" y="180.1">Sp</text><text class="tiny" x="158.0" y="180.1">4000</text>
<text class="tiny" x="200.6" y="175.8">LP</text><text class="tiny" x="207.2" y="175.8">100</text>
<text class="tiny" x="200.6" y="180.1">Sp</text><text class="tiny" x="207.2" y="180.1">4000</text>
<text class="tiny" x="249.8" y="175.8">LP</text><text class="tiny" x="256.40000000000003" y="175.8">100</text>
<text class="tiny" x="249.8" y="180.1">Sp</text><text class="tiny" x="256.40000000000003" y="180.1">4000</text>
</g>
<path d="M212,144.9 h2.4" stroke="#6a6a6a" stroke-width="0.8" filter="url(#bt)"/>
<rect x="213.5" y="159" width="56.8" height="23.6" fill="#dddddd"/>
<text class="tiny" x="269.5" y="181.6" opacity="0.6" filter="url(#bt)">=</text>
</g>
<text class="djs" x="240" y="169.7" font-size="9.5" text-anchor="middle">200 µm</text>
<path d="M227.3,177.4 H257 M227.6,173 V181.8 M256.7,173 V181.8" stroke="#000" stroke-width="1.5" fill="none"/>
<path d="M35.1,8 V186" stroke="#000" stroke-width="1.6" fill="none"/>
<path d="M34.3,188.1 H272" stroke="#000" stroke-width="1.6" fill="none"/>
<path d="M35.2,191.4 L31.2,177.8 L35.2,181.6 L39.2,177.8 Z" fill="#000"/>
<path d="M277.6,188.1 L265.8,183.8 L269.6,188.1 L265.8,192.4 Z" fill="#000"/>
<line x1="54" y1="184" x2="54" y2="188" stroke="#000" stroke-width="0.9"/>
<line x1="103.4" y1="184" x2="103.4" y2="188" stroke="#000" stroke-width="0.9"/>
<line x1="152.4" y1="184" x2="152.4" y2="188" stroke="#000" stroke-width="0.9"/>
<line x1="201.4" y1="184" x2="201.4" y2="188" stroke="#000" stroke-width="0.9"/>
<line x1="250.4" y1="184" x2="250.4" y2="188" stroke="#000" stroke-width="0.9"/>
<line x1="35" y1="49" x2="39" y2="49" stroke="#000" stroke-width="0.9"/>
<line x1="35" y1="99" x2="39" y2="99" stroke="#000" stroke-width="0.9"/>
<line x1="35" y1="149" x2="39" y2="149" stroke="#000" stroke-width="0.9"/>
<text class="djs" x="29.6" y="53.0" font-size="9.6" text-anchor="end">1</text>
<text class="djs" x="29.6" y="103.0" font-size="9.6" text-anchor="end">2</text>
<text class="djs" x="29.6" y="153.0" font-size="9.6" text-anchor="end">3</text>
<text x="54" y="202" font-size="8.8" text-anchor="middle">1</text>
<text x="103.4" y="202" font-size="8.8" text-anchor="middle">1.25</text>
<text x="152.4" y="202" font-size="8.8" text-anchor="middle">1.5</text>
<text x="201.4" y="202" font-size="8.8" text-anchor="middle">1.75</text>
<text x="250.4" y="202" font-size="8.8" text-anchor="middle">2</text>
<text x="154.3" y="216.1" font-size="10.7" text-anchor="middle">Δx [µm]</text>
<text class="dj" transform="translate(14.3,125.5) scale(1.1,1) rotate(-90)" font-size="9.4">v<tspan dy="2.2" font-size="7.4">y</tspan><tspan dy="-2.2"> [mm s</tspan><tspan dy="-3.6" font-size="6.6">-1</tspan><tspan dy="3.6">]</tspan></text>
<text class="cap" x="160.6" y="234.5" font-size="13.4" letter-spacing="0.3" text-anchor="middle">(A)</text>
<path d="M345.45,188.3 v-2.2" stroke="#262626" stroke-width="0.8"/>
<path d="M389.35,188.3 v-2.2" stroke="#262626" stroke-width="0.8"/>
<path d="M433.25,188.3 v-2.2" stroke="#262626" stroke-width="0.8"/>
<path d="M477.15,188.3 v-2.2" stroke="#262626" stroke-width="0.8"/>
<path d="M521.05,188.3 v-2.2" stroke="#262626" stroke-width="0.8"/>
<rect x="329.03" y="188.8" width="7.70" height="2.8" fill="#c8ffff" opacity="0.8"/>
<rect x="336.73" y="188.8" width="24.34" height="2.8" fill="#ffd6f2" opacity="0.8"/>
<rect x="372.93" y="188.8" width="7.70" height="2.8" fill="#c8ffff" opacity="0.8"/>
<rect x="380.63" y="188.8" width="24.34" height="2.8" fill="#ffd6f2" opacity="0.8"/>
<rect x="416.83" y="188.8" width="7.70" height="2.8" fill="#c8ffff" opacity="0.8"/>
<rect x="424.53" y="188.8" width="24.34" height="2.8" fill="#ffd6f2" opacity="0.8"/>
<rect x="460.73" y="188.8" width="7.70" height="2.8" fill="#c8ffff" opacity="0.8"/>
<rect x="468.43" y="188.8" width="24.34" height="2.8" fill="#ffd6f2" opacity="0.8"/>
<rect x="504.63" y="188.8" width="7.70" height="2.8" fill="#c8ffff" opacity="0.8"/>
<rect x="512.33" y="188.8" width="24.34" height="2.8" fill="#ffd6f2" opacity="0.8"/>
<clipPath id="c00"><rect x="329.73" y="48.30" width="6.90" height="84.00"/></clipPath>
<rect x="329.73" y="48.30" width="6.90" height="84.00" fill="#fff"/>
<path clip-path="url(#c00)" d="M329.43,38.64 L336.93,50.27 M329.43,43.94 L336.93,55.57 M329.43,49.24 L336.93,60.87 M329.43,54.54 L336.93,66.17 M329.43,59.84 L336.93,71.47 M329.43,65.14 L336.93,76.77 M329.43,70.44 L336.93,82.06 M329.43,75.74 L336.93,87.37 M329.43,81.04 L336.93,92.66 M329.43,86.34 L336.93,97.97 M329.43,91.64 L336.93,103.26 M329.43,96.94 L336.93,108.56 M329.43,102.24 L336.93,113.86 M329.43,107.54 L336.93,119.16 M329.43,112.84 L336.93,124.46 M329.43,118.14 L336.93,129.76 M329.43,123.44 L336.93,135.06 M329.43,128.74 L336.93,140.36" stroke="#1177bf" stroke-width="1.5" fill="none"/>
<rect x="329.73" y="48.30" width="6.90" height="84.00" fill="none" stroke="#777" stroke-opacity="0.8" stroke-width="0.5"/>
<rect x="328.78" y="132.30" width="1.6" height="56.00" fill="#aef6f6" opacity="0.9"/>
<rect x="330.28" y="132.30" width="6.10" height="56.00" fill="#2060c6"/>
<rect x="330.28" y="183.90" width="6.10" height="4.4" fill="#4350b8"/>
<clipPath id="c01"><rect x="337.71" y="48.30" width="6.90" height="84.00"/></clipPath>
<rect x="337.71" y="48.30" width="6.90" height="84.00" fill="#fff"/>
<path clip-path="url(#c01)" d="M337.41,38.64 L344.91,50.27 M337.41,43.94 L344.91,55.57 M337.41,49.24 L344.91,60.87 M337.41,54.54 L344.91,66.17 M337.41,59.84 L344.91,71.47 M337.41,65.14 L344.91,76.77 M337.41,70.44 L344.91,82.06 M337.41,75.74 L344.91,87.37 M337.41,81.04 L344.91,92.66 M337.41,86.34 L344.91,97.97 M337.41,91.64 L344.91,103.26 M337.41,96.94 L344.91,108.56 M337.41,102.24 L344.91,113.86 M337.41,107.54 L344.91,119.16 M337.41,112.84 L344.91,124.46 M337.41,118.14 L344.91,129.76 M337.41,123.44 L344.91,135.06 M337.41,128.74 L344.91,140.36" stroke="#dc5520" stroke-width="1.5" fill="none"/>
<rect x="337.71" y="48.30" width="6.90" height="84.00" fill="none" stroke="#777" stroke-opacity="0.8" stroke-width="0.5"/>
<rect x="336.66" y="132.30" width="1.7" height="56.00" fill="#ff92bc" opacity="0.8"/>
<rect x="338.26" y="132.30" width="6.10" height="56.00" fill="#c8661a"/>
<rect x="342.76" y="132.30" width="1.6" height="56.00" fill="#a85212" opacity="0.8"/>
<rect x="338.26" y="183.90" width="6.10" height="4.4" fill="#a08028"/>
<clipPath id="c02"><rect x="345.69" y="48.30" width="6.90" height="84.00"/></clipPath>
<rect x="345.69" y="48.30" width="6.90" height="84.00" fill="#fff"/>
<path clip-path="url(#c02)" d="M345.39,38.64 L352.89,50.27 M345.39,43.94 L352.89,55.57 M345.39,49.24 L352.89,60.87 M345.39,54.54 L352.89,66.17 M345.39,59.84 L352.89,71.47 M345.39,65.14 L352.89,76.77 M345.39,70.44 L352.89,82.06 M345.39,75.74 L352.89,87.37 M345.39,81.04 L352.89,92.66 M345.39,86.34 L352.89,97.97 M345.39,91.64 L352.89,103.26 M345.39,96.94 L352.89,108.56 M345.39,102.24 L352.89,113.86 M345.39,107.54 L352.89,119.16 M345.39,112.84 L352.89,124.46 M345.39,118.14 L352.89,129.76 M345.39,123.44 L352.89,135.06 M345.39,128.74 L352.89,140.36" stroke="#edb120" stroke-width="1.5" fill="none"/>
<rect x="345.69" y="48.30" width="6.90" height="84.00" fill="none" stroke="#777" stroke-opacity="0.8" stroke-width="0.5"/>
<rect x="344.64" y="132.30" width="1.7" height="56.00" fill="#ff92bc" opacity="0.8"/>
<rect x="346.24" y="132.30" width="6.10" height="56.00" fill="#e6b31c"/>
<rect x="346.24" y="132.30" width="1.2" height="56.00" fill="#f09a20" opacity="0.7"/>
<rect x="346.24" y="183.90" width="6.10" height="4.4" fill="#d2c422"/>
<clipPath id="c03"><rect x="353.67" y="48.30" width="6.90" height="84.00"/></clipPath>
<rect x="353.67" y="48.30" width="6.90" height="84.00" fill="#fff"/>
<path clip-path="url(#c03)" d="M353.37,38.64 L360.87,50.27 M353.37,43.94 L360.87,55.57 M353.37,49.24 L360.87,60.87 M353.37,54.54 L360.87,66.17 M353.37,59.84 L360.87,71.47 M353.37,65.14 L360.87,76.77 M353.37,70.44 L360.87,82.06 M353.37,75.74 L360.87,87.37 M353.37,81.04 L360.87,92.66 M353.37,86.34 L360.87,97.97 M353.37,91.64 L360.87,103.26 M353.37,96.94 L360.87,108.56 M353.37,102.24 L360.87,113.86 M353.37,107.54 L360.87,119.16 M353.37,112.84 L360.87,124.46 M353.37,118.14 L360.87,129.76 M353.37,123.44 L360.87,135.06 M353.37,128.74 L360.87,140.36" stroke="#7e2f8e" stroke-width="1.5" fill="none"/>
<rect x="353.67" y="48.30" width="6.90" height="84.00" fill="none" stroke="#777" stroke-opacity="0.8" stroke-width="0.5"/>
<rect x="352.62" y="132.30" width="1.7" height="56.00" fill="#ff92bc" opacity="0.8"/>
<rect x="354.22" y="132.30" width="6.10" height="56.00" fill="#7030a0"/>
<rect x="360.32" y="132.30" width="1.4" height="56.00" fill="#ffd8f4" opacity="0.7"/>
<rect x="354.22" y="183.90" width="6.10" height="4.4" fill="#60308e"/>
<clipPath id="c10"><rect x="373.63" y="48.30" width="6.90" height="84.00"/></clipPath>
<rect x="373.63" y="48.30" width="6.90" height="84.00" fill="#fff"/>
<path clip-path="url(#c10)" d="M373.33,38.64 L380.83,50.27 M373.33,43.94 L380.83,55.57 M373.33,49.24 L380.83,60.87 M373.33,54.54 L380.83,66.17 M373.33,59.84 L380.83,71.47 M373.33,65.14 L380.83,76.77 M373.33,70.44 L380.83,82.06 M373.33,75.74 L380.83,87.37 M373.33,81.04 L380.83,92.66 M373.33,86.34 L380.83,97.97 M373.33,91.64 L380.83,103.26 M373.33,96.94 L380.83,108.56 M373.33,102.24 L380.83,113.86 M373.33,107.54 L380.83,119.16 M373.33,112.84 L380.83,124.46 M373.33,118.14 L380.83,129.76 M373.33,123.44 L380.83,135.06 M373.33,128.74 L380.83,140.36" stroke="#1177bf" stroke-width="1.5" fill="none"/>
<rect x="373.63" y="48.30" width="6.90" height="84.00" fill="none" stroke="#777" stroke-opacity="0.8" stroke-width="0.5"/>
<rect x="368.68" y="132.30" width="5.5" height="56.00" fill="#e4ffff" opacity="0.8"/>
<rect x="374.18" y="132.30" width="6.10" height="56.00" fill="#3a4cc2"/>
<rect x="374.18" y="183.90" width="6.10" height="4.4" fill="#4350b8"/>
<clipPath id="c11"><rect x="381.61" y="48.30" width="6.90" height="84.00"/></clipPath>
<rect x="381.61" y="48.30" width="6.90" height="84.00" fill="#fff"/>
<path clip-path="url(#c11)" d="M381.31,38.64 L388.81,50.27 M381.31,43.94 L388.81,55.57 M381.31,49.24 L388.81,60.87 M381.31,54.54 L388.81,66.17 M381.31,59.84 L388.81,71.47 M381.31,65.14 L388.81,76.77 M381.31,70.44 L388.81,82.06 M381.31,75.74 L388.81,87.37 M381.31,81.04 L388.81,92.66 M381.31,86.34 L388.81,97.97 M381.31,91.64 L388.81,103.26 M381.31,96.94 L388.81,108.56 M381.31,102.24 L388.81,113.86 M381.31,107.54 L388.81,119.16 M381.31,112.84 L388.81,124.46 M381.31,118.14 L388.81,129.76 M381.31,123.44 L388.81,135.06 M381.31,128.74 L388.81,140.36" stroke="#dc5520" stroke-width="1.5" fill="none"/>
<rect x="381.61" y="48.30" width="6.90" height="84.00" fill="none" stroke="#777" stroke-opacity="0.8" stroke-width="0.5"/>
<rect x="382.16" y="132.30" width="6.10" height="56.00" fill="#c8661a"/>
<rect x="382.16" y="132.30" width="1.6" height="56.00" fill="#5f9420"/>
<rect x="382.16" y="183.90" width="6.10" height="4.4" fill="#a08028"/>
<clipPath id="c12"><rect x="389.59" y="48.30" width="6.90" height="112.00"/></clipPath>
<rect x="389.59" y="48.30" width="6.90" height="112.00" fill="#fff"/>
<path clip-path="url(#c12)" d="M389.29,38.64 L396.79,50.27 M389.29,43.94 L396.79,55.57 M389.29,49.24 L396.79,60.87 M389.29,54.54 L396.79,66.17 M389.29,59.84 L396.79,71.47 M389.29,65.14 L396.79,76.77 M389.29,70.44 L396.79,82.06 M389.29,75.74 L396.79,87.37 M389.29,81.04 L396.79,92.66 M389.29,86.34 L396.79,97.97 M389.29,91.64 L396.79,103.26 M389.29,96.94 L396.79,108.56 M389.29,102.24 L396.79,113.86 M389.29,107.54 L396.79,119.16 M389.29,112.84 L396.79,124.46 M389.29,118.14 L396.79,129.76 M389.29,123.44 L396.79,135.06 M389.29,128.74 L396.79,140.36 M389.29,134.04 L396.79,145.66 M389.29,139.34 L396.79,150.97 M389.29,144.64 L396.79,156.27 M389.29,149.94 L396.79,161.57 M389.29,155.24 L396.79,166.87" stroke="#edb120" stroke-width="1.5" fill="none"/>
<rect x="389.59" y="48.30" width="6.90" height="112.00" fill="none" stroke="#777" stroke-opacity="0.8" stroke-width="0.5"/>
<rect x="388.54" y="160.30" width="1.7" height="28.00" fill="#ff92bc" opacity="0.8"/>
<rect x="390.14" y="160.30" width="6.10" height="28.00" fill="#e6b31c"/>
<rect x="390.14" y="160.30" width="1.2" height="28.00" fill="#f09a20" opacity="0.7"/>
<rect x="390.14" y="183.90" width="6.10" height="4.4" fill="#d2c422"/>
<clipPath id="c13"><rect x="397.57" y="48.30" width="6.90" height="112.00"/></clipPath>
<rect x="397.57" y="48.30" width="6.90" height="112.00" fill="#fff"/>
<path clip-path="url(#c13)" d="M397.27,38.64 L404.77,50.27 M397.27,43.94 L404.77,55.57 M397.27,49.24 L404.77,60.87 M397.27,54.54 L404.77,66.17 M397.27,59.84 L404.77,71.47 M397.27,65.14 L404.77,76.77 M397.27,70.44 L404.77,82.06 M397.27,75.74 L404.77,87.37 M397.27,81.04 L404.77,92.66 M397.27,86.34 L404.77,97.97 M397.27,91.64 L404.77,103.26 M397.27,96.94 L404.77,108.56 M397.27,102.24 L404.77,113.86 M397.27,107.54 L404.77,119.16 M397.27,112.84 L404.77,124.46 M397.27,118.14 L404.77,129.76 M397.27,123.44 L404.77,135.06 M397.27,128.74 L404.77,140.36 M397.27,134.04 L404.77,145.66 M397.27,139.34 L404.77,150.97 M397.27,144.64 L404.77,156.27 M397.27,149.94 L404.77,161.57 M397.27,155.24 L404.77,166.87" stroke="#7e2f8e" stroke-width="1.5" fill="none"/>
<rect x="397.57" y="48.30" width="6.90" height="112.00" fill="none" stroke="#777" stroke-opacity="0.8" stroke-width="0.5"/>
<rect x="396.52" y="160.30" width="1.7" height="28.00" fill="#ff92bc" opacity="0.8"/>
<rect x="398.12" y="160.30" width="6.10" height="28.00" fill="#7030a0"/>
<rect x="404.22" y="160.30" width="1.4" height="28.00" fill="#ffd8f4" opacity="0.7"/>
<rect x="398.12" y="183.90" width="6.10" height="4.4" fill="#60308e"/>
<clipPath id="c20"><rect x="417.53" y="48.30" width="6.90" height="84.00"/></clipPath>
<rect x="417.53" y="48.30" width="6.90" height="84.00" fill="#fff"/>
<path clip-path="url(#c20)" d="M417.23,38.64 L424.73,50.27 M417.23,43.94 L424.73,55.57 M417.23,49.24 L424.73,60.87 M417.23,54.54 L424.73,66.17 M417.23,59.84 L424.73,71.47 M417.23,65.14 L424.73,76.77 M417.23,70.44 L424.73,82.06 M417.23,75.74 L424.73,87.37 M417.23,81.04 L424.73,92.66 M417.23,86.34 L424.73,97.97 M417.23,91.64 L424.73,103.26 M417.23,96.94 L424.73,108.56 M417.23,102.24 L424.73,113.86 M417.23,107.54 L424.73,119.16 M417.23,112.84 L424.73,124.46 M417.23,118.14 L424.73,129.76 M417.23,123.44 L424.73,135.06 M417.23,128.74 L424.73,140.36" stroke="#1177bf" stroke-width="1.5" fill="none"/>
<rect x="417.53" y="48.30" width="6.90" height="84.00" fill="none" stroke="#777" stroke-opacity="0.8" stroke-width="0.5"/>
<rect x="416.58" y="132.30" width="1.6" height="56.00" fill="#aef6f6" opacity="0.9"/>
<rect x="418.08" y="132.30" width="6.10" height="56.00" fill="#2060c6"/>
<rect x="418.08" y="183.90" width="6.10" height="4.4" fill="#4350b8"/>
<clipPath id="c21"><rect x="425.51" y="48.30" width="6.90" height="84.00"/></clipPath>
<rect x="425.51" y="48.30" width="6.90" height="84.00" fill="#fff"/>
<path clip-path="url(#c21)" d="M425.21,38.64 L432.71,50.27 M425.21,43.94 L432.71,55.57 M425.21,49.24 L432.71,60.87 M425.21,54.54 L432.71,66.17 M425.21,59.84 L432.71,71.47 M425.21,65.14 L432.71,76.77 M425.21,70.44 L432.71,82.06 M425.21,75.74 L432.71,87.37 M425.21,81.04 L432.71,92.66 M425.21,86.34 L432.71,97.97 M425.21,91.64 L432.71,103.26 M425.21,96.94 L432.71,108.56 M425.21,102.24 L432.71,113.86 M425.21,107.54 L432.71,119.16 M425.21,112.84 L432.71,124.46 M425.21,118.14 L432.71,129.76 M425.21,123.44 L432.71,135.06 M425.21,128.74 L432.71,140.36" stroke="#dc5520" stroke-width="1.5" fill="none"/>
<rect x="425.51" y="48.30" width="6.90" height="84.00" fill="none" stroke="#777" stroke-opacity="0.8" stroke-width="0.5"/>
<rect x="424.46" y="132.30" width="1.7" height="56.00" fill="#ff92bc" opacity="0.8"/>
<rect x="426.06" y="132.30" width="6.10" height="56.00" fill="#c8661a"/>
<rect x="430.56" y="132.30" width="1.6" height="56.00" fill="#a85212" opacity="0.8"/>
<rect x="426.06" y="183.90" width="6.10" height="4.4" fill="#a08028"/>
<clipPath id="c22"><rect x="433.49" y="76.30" width="6.90" height="84.00"/></clipPath>
<rect x="433.49" y="76.30" width="6.90" height="84.00" fill="#fff"/>
<path clip-path="url(#c22)" d="M433.19,66.64 L440.69,78.27 M433.19,71.94 L440.69,83.57 M433.19,77.24 L440.69,88.87 M433.19,82.54 L440.69,94.17 M433.19,87.84 L440.69,99.47 M433.19,93.14 L440.69,104.77 M433.19,98.44 L440.69,110.06 M433.19,103.74 L440.69,115.37 M433.19,109.04 L440.69,120.66 M433.19,114.34 L440.69,125.97 M433.19,119.64 L440.69,131.26 M433.19,124.94 L440.69,136.56 M433.19,130.24 L440.69,141.86 M433.19,135.54 L440.69,147.16 M433.19,140.84 L440.69,152.47 M433.19,146.14 L440.69,157.77 M433.19,151.44 L440.69,163.07 M433.19,156.74 L440.69,168.37" stroke="#edb120" stroke-width="1.5" fill="none"/>
<rect x="433.49" y="76.30" width="6.90" height="84.00" fill="none" stroke="#777" stroke-opacity="0.8" stroke-width="0.5"/>
<rect x="432.44" y="160.30" width="1.7" height="28.00" fill="#ff92bc" opacity="0.8"/>
<rect x="434.04" y="160.30" width="6.10" height="28.00" fill="#e6b31c"/>
<rect x="434.04" y="160.30" width="1.2" height="28.00" fill="#f09a20" opacity="0.7"/>
<rect x="434.04" y="183.90" width="6.10" height="4.4" fill="#d2c422"/>
<clipPath id="c23"><rect x="441.47" y="104.30" width="6.90" height="56.00"/></clipPath>
<rect x="441.47" y="104.30" width="6.90" height="56.00" fill="#fff"/>
<path clip-path="url(#c23)" d="M441.17,94.64 L448.67,106.27 M441.17,99.94 L448.67,111.57 M441.17,105.24 L448.67,116.87 M441.17,110.54 L448.67,122.17 M441.17,115.84 L448.67,127.47 M441.17,121.14 L448.67,132.77 M441.17,126.44 L448.67,138.06 M441.17,131.74 L448.67,143.37 M441.17,137.04 L448.67,148.67 M441.17,142.34 L448.67,153.97 M441.17,147.64 L448.67,159.27 M441.17,152.94 L448.67,164.57 M441.17,158.24 L448.67,169.87" stroke="#7e2f8e" stroke-width="1.5" fill="none"/>
<rect x="441.47" y="104.30" width="6.90" height="56.00" fill="none" stroke="#777" stroke-opacity="0.8" stroke-width="0.5"/>
<rect x="440.42" y="160.30" width="1.7" height="28.00" fill="#ff92bc" opacity="0.8"/>
<rect x="442.02" y="160.30" width="6.10" height="28.00" fill="#7030a0"/>
<rect x="448.12" y="160.30" width="1.4" height="28.00" fill="#ffd8f4" opacity="0.7"/>
<rect x="442.02" y="183.90" width="6.10" height="4.4" fill="#60308e"/>
<clipPath id="c30"><rect x="461.43" y="48.30" width="6.90" height="84.00"/></clipPath>
<rect x="461.43" y="48.30" width="6.90" height="84.00" fill="#fff"/>
<path clip-path="url(#c30)" d="M461.13,38.64 L468.63,50.27 M461.13,43.94 L468.63,55.57 M461.13,49.24 L468.63,60.87 M461.13,54.54 L468.63,66.17 M461.13,59.84 L468.63,71.47 M461.13,65.14 L468.63,76.77 M461.13,70.44 L468.63,82.06 M461.13,75.74 L468.63,87.37 M461.13,81.04 L468.63,92.66 M461.13,86.34 L468.63,97.97 M461.13,91.64 L468.63,103.26 M461.13,96.94 L468.63,108.56 M461.13,102.24 L468.63,113.86 M461.13,107.54 L468.63,119.16 M461.13,112.84 L468.63,124.46 M461.13,118.14 L468.63,129.76 M461.13,123.44 L468.63,135.06 M461.13,128.74 L468.63,140.36" stroke="#1177bf" stroke-width="1.5" fill="none"/>
<rect x="461.43" y="48.30" width="6.90" height="84.00" fill="none" stroke="#777" stroke-opacity="0.8" stroke-width="0.5"/>
<rect x="456.48" y="132.30" width="5.5" height="56.00" fill="#e4ffff" opacity="0.8"/>
<rect x="461.98" y="132.30" width="6.10" height="56.00" fill="#3a4cc2"/>
<rect x="461.98" y="183.90" width="6.10" height="4.4" fill="#4350b8"/>
<clipPath id="c31"><rect x="469.41" y="76.30" width="6.90" height="84.00"/></clipPath>
<rect x="469.41" y="76.30" width="6.90" height="84.00" fill="#fff"/>
<path clip-path="url(#c31)" d="M469.11,66.64 L476.61,78.27 M469.11,71.94 L476.61,83.57 M469.11,77.24 L476.61,88.87 M469.11,82.54 L476.61,94.17 M469.11,87.84 L476.61,99.47 M469.11,93.14 L476.61,104.77 M469.11,98.44 L476.61,110.06 M469.11,103.74 L476.61,115.37 M469.11,109.04 L476.61,120.66 M469.11,114.34 L476.61,125.97 M469.11,119.64 L476.61,131.26 M469.11,124.94 L476.61,136.56 M469.11,130.24 L476.61,141.86 M469.11,135.54 L476.61,147.16 M469.11,140.84 L476.61,152.47 M469.11,146.14 L476.61,157.77 M469.11,151.44 L476.61,163.07 M469.11,156.74 L476.61,168.37" stroke="#c06a2a" stroke-width="1.5" fill="none"/>
<rect x="469.41" y="76.30" width="6.90" height="84.00" fill="none" stroke="#777" stroke-opacity="0.8" stroke-width="0.5"/>
<rect x="469.96" y="160.30" width="6.10" height="28.00" fill="#c8661a"/>
<rect x="469.96" y="160.30" width="1.6" height="28.00" fill="#5f9420"/>
<rect x="469.96" y="183.90" width="6.10" height="4.4" fill="#a08028"/>
<clipPath id="c32"><rect x="477.39" y="104.30" width="6.90" height="56.00"/></clipPath>
<rect x="477.39" y="104.30" width="6.90" height="56.00" fill="#fff"/>
<path clip-path="url(#c32)" d="M477.09,94.64 L484.59,106.27 M477.09,99.94 L484.59,111.57 M477.09,105.24 L484.59,116.87 M477.09,110.54 L484.59,122.17 M477.09,115.84 L484.59,127.47 M477.09,121.14 L484.59,132.77 M477.09,126.44 L484.59,138.06 M477.09,131.74 L484.59,143.37 M477.09,137.04 L484.59,148.67 M477.09,142.34 L484.59,153.97 M477.09,147.64 L484.59,159.27 M477.09,152.94 L484.59,164.57 M477.09,158.24 L484.59,169.87" stroke="#edb120" stroke-width="1.5" fill="none"/>
<rect x="477.39" y="104.30" width="6.90" height="56.00" fill="none" stroke="#777" stroke-opacity="0.8" stroke-width="0.5"/>
<rect x="476.34" y="160.30" width="1.7" height="28.00" fill="#ff92bc" opacity="0.8"/>
<rect x="477.94" y="160.30" width="6.10" height="28.00" fill="#e6b31c"/>
<rect x="477.94" y="160.30" width="1.2" height="28.00" fill="#f09a20" opacity="0.7"/>
<rect x="477.94" y="183.90" width="6.10" height="4.4" fill="#d2c422"/>
<rect x="484.32" y="160.30" width="1.7" height="28.00" fill="#ff92bc" opacity="0.8"/>
<rect x="485.92" y="160.30" width="6.10" height="28.00" fill="#7030a0"/>
<rect x="492.02" y="160.30" width="1.4" height="28.00" fill="#ffd8f4" opacity="0.7"/>
<rect x="485.92" y="183.90" width="6.10" height="4.4" fill="#60308e"/>
<clipPath id="c40"><rect x="505.33" y="76.30" width="6.90" height="84.00"/></clipPath>
<rect x="505.33" y="76.30" width="6.90" height="84.00" fill="#fff"/>
<path clip-path="url(#c40)" d="M505.03,66.64 L512.53,78.27 M505.03,71.94 L512.53,83.57 M505.03,77.24 L512.53,88.87 M505.03,82.54 L512.53,94.17 M505.03,87.84 L512.53,99.47 M505.03,93.14 L512.53,104.77 M505.03,98.44 L512.53,110.06 M505.03,103.74 L512.53,115.37 M505.03,109.04 L512.53,120.66 M505.03,114.34 L512.53,125.97 M505.03,119.64 L512.53,131.26 M505.03,124.94 L512.53,136.56 M505.03,130.24 L512.53,141.86 M505.03,135.54 L512.53,147.16 M505.03,140.84 L512.53,152.47 M505.03,146.14 L512.53,157.77 M505.03,151.44 L512.53,163.07 M505.03,156.74 L512.53,168.37" stroke="#1177bf" stroke-width="1.5" fill="none"/>
<rect x="505.33" y="76.30" width="6.90" height="84.00" fill="none" stroke="#777" stroke-opacity="0.8" stroke-width="0.5"/>
<rect x="504.38" y="160.30" width="1.6" height="28.00" fill="#aef6f6" opacity="0.9"/>
<rect x="505.88" y="160.30" width="6.10" height="28.00" fill="#2060c6"/>
<rect x="505.88" y="183.90" width="6.10" height="4.4" fill="#4350b8"/>
<clipPath id="c41"><rect x="513.31" y="132.30" width="6.90" height="42.00"/></clipPath>
<rect x="513.31" y="132.30" width="6.90" height="42.00" fill="#fff"/>
<path clip-path="url(#c41)" d="M513.01,122.64 L520.51,134.27 M513.01,127.94 L520.51,139.57 M513.01,133.24 L520.51,144.87 M513.01,138.54 L520.51,150.17 M513.01,143.84 L520.51,155.47 M513.01,149.14 L520.51,160.77 M513.01,154.44 L520.51,166.07 M513.01,159.74 L520.51,171.37 M513.01,165.04 L520.51,176.67 M513.01,170.34 L520.51,181.97" stroke="#b87a34" stroke-width="1.5" fill="none"/>
<rect x="513.31" y="132.30" width="6.90" height="42.00" fill="none" stroke="#777" stroke-opacity="0.8" stroke-width="0.5"/>
<rect x="512.26" y="174.30" width="1.7" height="14.00" fill="#ff92bc" opacity="0.8"/>
<rect x="513.86" y="174.30" width="6.10" height="14.00" fill="#c8661a"/>
<rect x="518.36" y="174.30" width="1.6" height="14.00" fill="#a85212" opacity="0.8"/>
<rect x="513.86" y="183.90" width="6.10" height="4.4" fill="#a08028"/>
<clipPath id="c42"><rect x="521.29" y="160.30" width="6.90" height="14.00"/></clipPath>
<rect x="521.29" y="160.30" width="6.90" height="14.00" fill="#fff"/>
<path clip-path="url(#c42)" d="M520.99,150.64 L528.49,162.27 M520.99,155.94 L528.49,167.57 M520.99,161.24 L528.49,172.87 M520.99,166.54 L528.49,178.17 M520.99,171.84 L528.49,183.47" stroke="#edb120" stroke-width="1.5" fill="none"/>
<rect x="521.29" y="160.30" width="6.90" height="14.00" fill="none" stroke="#777" stroke-opacity="0.8" stroke-width="0.5"/>
<rect x="520.24" y="174.30" width="1.7" height="14.00" fill="#ff92bc" opacity="0.8"/>
<rect x="521.84" y="174.30" width="6.10" height="14.00" fill="#e6b31c"/>
<rect x="521.84" y="174.30" width="1.2" height="14.00" fill="#f09a20" opacity="0.7"/>
<rect x="521.84" y="183.90" width="6.10" height="4.4" fill="#d2c422"/>
<clipPath id="c43"><rect x="529.27" y="160.30" width="6.90" height="14.00"/></clipPath>
<rect x="529.27" y="160.30" width="6.90" height="14.00" fill="#fff"/>
<path clip-path="url(#c43)" d="M528.97,150.64 L536.47,162.27 M528.97,155.94 L536.47,167.57 M528.97,161.24 L536.47,172.87 M528.97,166.54 L536.47,178.17 M528.97,171.84 L536.47,183.47" stroke="#7e2f8e" stroke-width="1.5" fill="none"/>
<rect x="529.27" y="160.30" width="6.90" height="14.00" fill="none" stroke="#777" stroke-opacity="0.8" stroke-width="0.5"/>
<rect x="528.22" y="174.30" width="1.7" height="14.00" fill="#ff92bc" opacity="0.8"/>
<rect x="529.82" y="174.30" width="6.10" height="14.00" fill="#7030a0"/>
<rect x="535.92" y="174.30" width="1.4" height="14.00" fill="#ffd8f4" opacity="0.7"/>
<rect x="529.82" y="183.90" width="6.10" height="4.4" fill="#60308e"/>
<rect x="323.5" y="20.3" width="219.5" height="168.0" fill="none" stroke="#262626" stroke-width="0.9"/>
<path d="M323.5,160.30 h2.2 M543.0,160.30 h-2.2" stroke="#262626" stroke-width="0.8"/>
<path d="M323.5,132.30 h2.2 M543.0,132.30 h-2.2" stroke="#262626" stroke-width="0.8"/>
<path d="M323.5,104.30 h2.2 M543.0,104.30 h-2.2" stroke="#262626" stroke-width="0.8"/>
<path d="M323.5,76.30 h2.2 M543.0,76.30 h-2.2" stroke="#262626" stroke-width="0.8"/>
<path d="M323.5,48.30 h2.2 M543.0,48.30 h-2.2" stroke="#262626" stroke-width="0.8"/>
<text x="320.3" y="191.50" font-size="8.8" text-anchor="end">0</text>
<text x="320.3" y="163.50" font-size="8.8" text-anchor="end">1</text>
<text x="320.3" y="135.50" font-size="8.8" text-anchor="end">2</text>
<text x="320.3" y="107.50" font-size="8.8" text-anchor="end">3</text>
<text x="320.3" y="79.50" font-size="8.8" text-anchor="end">4</text>
<text x="320.3" y="51.50" font-size="8.8" text-anchor="end">5</text>
<text x="320.3" y="23.50" font-size="8.8" text-anchor="end">6</text>
<text x="345.45" y="201.6" font-size="8.8" text-anchor="middle">1</text>
<text x="389.35" y="201.6" font-size="8.8" text-anchor="middle">1.25</text>
<text x="433.25" y="201.6" font-size="8.8" text-anchor="middle">1.5</text>
<text x="477.15" y="201.6" font-size="8.8" text-anchor="middle">1.75</text>
<text x="521.05" y="201.6" font-size="8.8" text-anchor="middle">2</text>
<text x="433" y="215.2" font-size="10.7" text-anchor="middle">Δx [µm]</text>
<text transform="translate(306.4,131.6) rotate(-90)" font-size="10.9">v<tspan dy="2.6" font-size="8.6">y</tspan><tspan dy="-2.6"> [mm s</tspan><tspan dy="-4.6" font-size="8">-1</tspan><tspan dy="4.6">]</tspan></text>
<text class="cap" x="434.5" y="234.5" font-size="13.4" letter-spacing="0.3" text-anchor="middle">(B)</text>
<rect x="468.6" y="24" width="71.5" height="48.5" fill="#fff"/>
<rect x="470.9" y="28.4" width="20.1" height="7.80" fill="#0a72bd" stroke="#666" stroke-width="0.35"/>
<text x="493.3" y="36.25" font-size="8.5">Δz=2.5 µm</text>
<rect x="470.9" y="39.8" width="20.1" height="7.60" fill="#d9561c" stroke="#666" stroke-width="0.35"/>
<text x="493.3" y="47.45" font-size="8.5">Δz=5 µm</text>
<rect x="470.9" y="51.2" width="20.1" height="7.60" fill="#edb120" stroke="#666" stroke-width="0.35"/>
<text x="493.3" y="58.85" font-size="8.5">Δz=7.5 µm</text>
<rect x="470.9" y="62.3" width="20.1" height="7.60" fill="#7e2f8e" stroke="#666" stroke-width="0.35"/>
<text x="493.3" y="69.95" font-size="8.5">Δz=10 µm</text>
</svg></body></html>
